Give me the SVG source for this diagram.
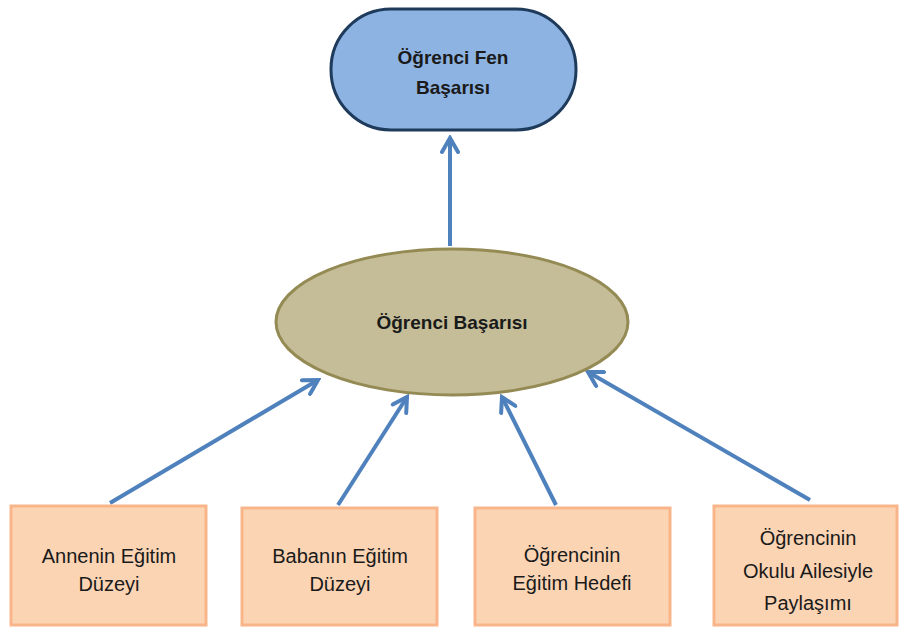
<svg xmlns="http://www.w3.org/2000/svg" width="900" height="629" viewBox="0 0 900 629">
<defs>
<marker id="arr" viewBox="0 0 20 20" refX="17" refY="10" markerWidth="20" markerHeight="20" markerUnits="userSpaceOnUse" orient="auto">
<path d="M3,2 L17,10 L3,18" fill="none" stroke="#4f81bd" stroke-width="4" stroke-linecap="round" stroke-linejoin="miter"/>
</marker>
</defs>
<style>
text{font-family:"Liberation Sans",Arial,sans-serif;fill:#1a1a1a;text-anchor:middle}
.b{font-weight:bold;font-size:19px}
.r{font-size:20px}
.box{fill:#fbd4b4;stroke:#f9b58a;stroke-width:3}
.c{stroke:#4f81bd;stroke-width:4;fill:none;marker-end:url(#arr)}
</style>
<rect width="900" height="629" fill="#ffffff"/>
<g id="connectors">
<line class="c" x1="450" y1="246" x2="450" y2="138"/>
<line class="c" x1="110" y1="503" x2="318" y2="380"/>
<line class="c" x1="338" y1="505" x2="407" y2="397"/>
<line class="c" x1="556" y1="505" x2="502" y2="397"/>
<line class="c" x1="810" y1="500" x2="588" y2="372"/>
</g>
<g id="fen">
<rect x="331" y="9" width="245" height="121" rx="60" ry="60" fill="#8db3e2" stroke="#1f3b5c" stroke-width="3"/>
<text class="b" x="453" y="64">Öğrenci Fen</text>
<text class="b" x="453" y="94">Başarısı</text>
</g>
<g id="basari">
<ellipse cx="452" cy="322" rx="176" ry="73" fill="#c4bd97" stroke="#948a54" stroke-width="3"/>
<text class="b" x="452" y="329">Öğrenci Başarısı</text>
</g>
<g id="anne">
<rect class="box" x="11" y="506" width="195" height="119"/>
<text class="r" x="109" y="563">Annenin Eğitim</text>
<text class="r" x="109" y="591">Düzeyi</text>
</g>
<g id="baba">
<rect class="box" x="242" y="508" width="195" height="117"/>
<text class="r" x="340" y="563">Babanın Eğitim</text>
<text class="r" x="340" y="591">Düzeyi</text>
</g>
<g id="hedef">
<rect class="box" x="475" y="508" width="195" height="117"/>
<text class="r" x="572" y="562">Öğrencinin</text>
<text class="r" x="572" y="590">Eğitim Hedefi</text>
</g>
<g id="paylasim">
<rect class="box" x="714" y="506" width="183" height="119"/>
<text class="r" x="808" y="545">Öğrencinin</text>
<text class="r" x="808" y="578">Okulu Ailesiyle</text>
<text class="r" x="808" y="610">Paylaşımı</text>
</g>
</svg>
